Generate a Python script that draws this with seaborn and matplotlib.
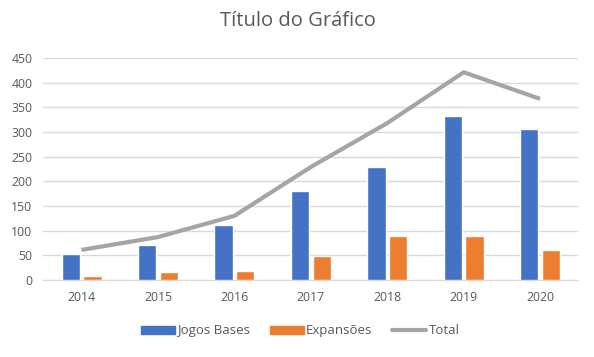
import matplotlib
matplotlib.use('Agg')
import matplotlib.pyplot as plt
import seaborn as sns
import numpy as np
import pandas as pd
from matplotlib.patches import Patch
from matplotlib.lines import Line2D

# Data
years = ['2014', '2015', '2016', '2017', '2018', '2019', '2020']
jogos_bases = [53, 71, 112, 180, 229, 332, 306]
expansoes = [8, 16, 18, 49, 89, 89, 61]
total = [61, 87, 130, 229, 318, 421, 367]

blue = '#4472c4'
orange = '#ed7d31'
grey = '#a5a5a5'
text_grey = '#595959'

df = pd.DataFrame({'Ano': years * 2,
                   'Valor': jogos_bases + expansoes,
                   'Serie': ['Jogos Bases'] * len(years) + ['Expansões'] * len(years)})

sns.set_style("white")
plt.rcParams['font.family'] = ['Open Sans', 'DejaVu Sans']

fig = plt.figure(figsize=(5.94, 3.57), dpi=100)
ax = fig.add_axes([0.073, 0.2157, 0.9006, 0.622])

sns.barplot(data=df, x='Ano', y='Valor', hue='Serie',
            palette={'Jogos Bases': blue, 'Expansões': orange},
            width=0.57, gap=0.16, saturation=1, legend=False, ax=ax, zorder=3)
sns.lineplot(x=np.arange(len(years)), y=total, color=grey, linewidth=3,
             ax=ax, zorder=4, solid_capstyle='butt')

ax.set_xlim(-0.5, len(years) - 0.5)
ax.set_ylim(0, 450)
ax.set_yticks(np.arange(0, 451, 50))
ax.yaxis.grid(True, color='#d9d9d9', linewidth=1, zorder=0)
ax.set_axisbelow(True)
for s in ['top', 'right', 'left']:
    ax.spines[s].set_visible(False)
ax.spines['bottom'].set_color('#d9d9d9')
ax.tick_params(axis='both', length=0, labelsize=8.8, labelcolor=text_grey)
ax.tick_params(axis='x', pad=8)
ax.tick_params(axis='y', pad=8)
ax.set_xlabel('')
ax.set_ylabel('')

fig.suptitle('Título do Gráfico', x=0.502, y=0.97, fontsize=14.5, color=text_grey)

handles = [Patch(color=blue), Patch(color=orange),
           Line2D([0], [0], color=grey, linewidth=3)]
fig.legend(handles, ['Jogos Bases', 'Expansões', 'Total'], loc='center',
           bbox_to_anchor=(0.505, 0.073), ncol=3, frameon=False,
           fontsize=9.5, labelcolor=text_grey, handlelength=2.6,
           handleheight=0.5, handletextpad=0.15, columnspacing=1.5)

plt.savefig('out.png', dpi=100)
